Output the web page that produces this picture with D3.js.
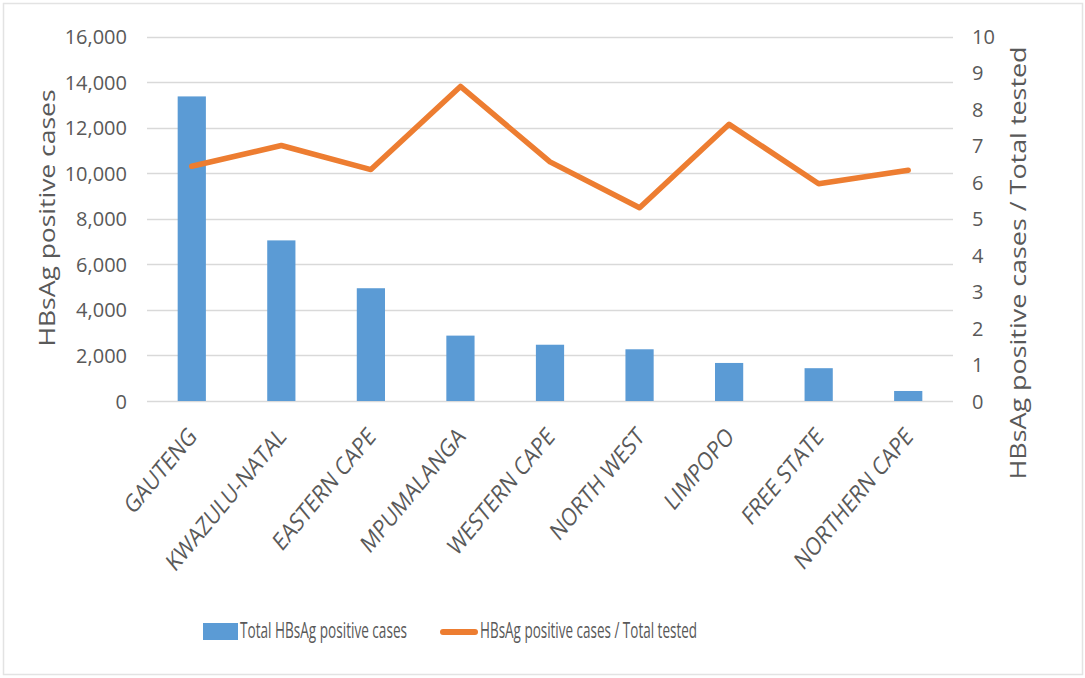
<!DOCTYPE html>
<html>
<head>
<meta charset="utf-8">
<script src="https://cdn.jsdelivr.net/npm/d3@7"></script>
<style>
  html, body { margin: 0; padding: 0; background: #fff; }
  svg { display: block; }
  text { font-family: "Open Sans", "Liberation Sans", sans-serif; fill: #595959; }
</style>
</head>
<body>
<svg id="chart" width="1085" height="678"></svg>
<script>
// Provinces along the x axis
const provinces = ["GAUTENG", "KWAZULU-NATAL", "EASTERN CAPE", "MPUMALANGA", "WESTERN CAPE",
                   "NORTH WEST", "LIMPOPO", "FREE STATE", "NORTHERN CAPE"];
// Total HBsAg positive cases per province (left axis)
const positiveCases = [13370, 7050, 4950, 2870, 2470, 2270, 1670, 1440, 440];
// HBsAg positive cases / total tested (right axis)
const positiveRatio = [6.44, 7.01, 6.35, 8.63, 6.56, 5.30, 7.59, 5.96, 6.33];
// Axis ticks
const leftTicks = [0, 2000, 4000, 6000, 8000, 10000, 12000, 14000, 16000];
const rightTicks = [0, 1, 2, 3, 4, 5, 6, 7, 8, 9, 10];

const barLabel = "Total HBsAg positive cases";
const lineLabel = "HBsAg positive cases / Total tested";
const leftTitle = "HBsAg positive cases";
const rightTitle = "HBsAg positive cases / Total tested";

const svg = d3.select("#chart");
const blue = "#5B9BD5", orange = "#ED7D31";

// Outer frame
svg.append("rect")
  .attr("x", 3.5).attr("y", 3.5).attr("width", 1079).attr("height", 671)
  .attr("fill", "none").attr("stroke", "#e3e3e3").attr("stroke-width", 1.5);

const plot = { left: 147, right: 953, top: 36.5, bottom: 401 };

const x = d3.scaleBand().domain(provinces).range([plot.left, plot.right]).paddingInner(0.685).paddingOuter(0.3425);
const xc = d3.scaleBand().domain(provinces).range([plot.left, plot.right]);
const yL = d3.scaleLinear().domain([0, 16000]).range([plot.bottom, plot.top]);
const yR = d3.scaleLinear().domain([0, 10]).range([plot.bottom, plot.top]);

// Gridlines
svg.append("g").selectAll("line").data(leftTicks).join("line")
  .attr("x1", plot.left).attr("x2", plot.right)
  .attr("y1", d => Math.round(yL(d)) + 0.5).attr("y2", d => Math.round(yL(d)) + 0.5)
  .attr("stroke", "#d9d9d9").attr("stroke-width", 1.5);

// Left axis
const leftAxis = svg.append("g").attr("transform", `translate(${plot.left - 20},0)`)
  .call(d3.axisLeft(yL).tickValues(leftTicks).tickFormat(d3.format(",")).tickSize(0).tickPadding(0));
leftAxis.select(".domain").remove();
leftAxis.attr("font-family", null);
leftAxis.selectAll("text").style("font-size", "20px").attr("dy", "0.35em");

// Right axis
const rightAxis = svg.append("g").attr("transform", `translate(${plot.right + 19},0)`)
  .call(d3.axisRight(yR).tickValues(rightTicks).tickFormat(d3.format("d")).tickSize(0).tickPadding(0));
rightAxis.select(".domain").remove();
rightAxis.attr("font-family", null);
rightAxis.selectAll("text").style("font-size", "20px").attr("dy", "0.35em");

// Bars
svg.append("g").selectAll("rect").data(provinces).join("rect")
  .attr("x", d => x(d)).attr("width", x.bandwidth())
  .attr("y", (d, i) => yL(positiveCases[i]))
  .attr("height", (d, i) => plot.bottom - yL(positiveCases[i]))
  .attr("fill", blue);

// Ratio line
const line = d3.line()
  .x((d, i) => xc(provinces[i]) + xc.bandwidth() / 2)
  .y(d => yR(d));
svg.append("path").datum(positiveRatio)
  .attr("d", line).attr("fill", "none").attr("stroke", orange)
  .attr("stroke-width", 5.5).attr("stroke-linejoin", "round").attr("stroke-linecap", "round");

// Category labels: diagonal, stretched vertically so they run a little steeper than 45°
svg.append("g").selectAll("text").data(provinces).join("text")
  .attr("transform", d => `translate(${xc(d) + xc.bandwidth() / 2 + 6},${plot.bottom + 37}) scale(1,1.2) rotate(-45)`)
  .attr("text-anchor", "end").style("font-size", "21px").text(d => d)
  .each(function () {
    const w = this.getComputedTextLength();
    d3.select(this).attr("textLength", w * 0.93).attr("lengthAdjust", "spacingAndGlyphs");
  });

// Axis titles
svg.append("text")
  .attr("transform", `translate(55,218) rotate(-90)`)
  .attr("text-anchor", "middle").style("font-size", "22px")
  .attr("textLength", 257).attr("lengthAdjust", "spacingAndGlyphs").text(leftTitle);
svg.append("text")
  .attr("transform", `translate(1026,263) rotate(-90)`)
  .attr("text-anchor", "middle").style("font-size", "22px")
  .attr("textLength", 433).attr("lengthAdjust", "spacingAndGlyphs").text(rightTitle);

// Legend
const legend = svg.append("g");
legend.append("rect").attr("x", 203).attr("y", 623).attr("width", 35).attr("height", 17).attr("fill", blue);
legend.append("text").attr("x", 240).attr("y", 638).style("font-size", "21px")
  .attr("textLength", 167).attr("lengthAdjust", "spacingAndGlyphs").text(barLabel);
legend.append("line").attr("x1", 443).attr("x2", 475).attr("y1", 632).attr("y2", 632)
  .attr("stroke", orange).attr("stroke-width", 6).attr("stroke-linecap", "round");
legend.append("text").attr("x", 480).attr("y", 638).style("font-size", "21px")
  .attr("textLength", 217).attr("lengthAdjust", "spacingAndGlyphs").text(lineLabel);
</script>
</body>
</html>
